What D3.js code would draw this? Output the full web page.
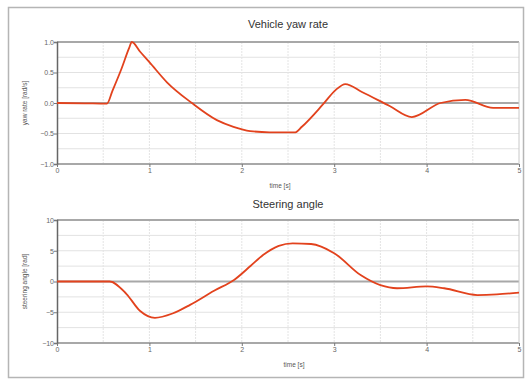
<!DOCTYPE html>
<html>
<head>
<meta charset="utf-8">
<script src="https://cdn.jsdelivr.net/npm/d3@7"></script>
<style>
  body { margin: 0; background: #fff; }
  text { font-family: "Liberation Sans", Arial, sans-serif; }
</style>
</head>
<body>
<script>
// data
var yawTime  = [0, 0.3, 0.54, 0.6, 0.7, 0.78, 0.81, 0.9, 1.0, 1.19, 1.46, 1.73, 1.91, 2.09, 2.3, 2.58, 2.65, 2.88, 3.02, 3.12, 3.3, 3.6, 3.84, 4.15, 4.42, 4.72, 5.0];
var yawRate  = [0, -0.005, -0.01, 0.2, 0.57, 0.9, 1.0, 0.84, 0.67, 0.34, 0.0, -0.28, -0.39, -0.46, -0.48, -0.48, -0.39, -0.02, 0.22, 0.31, 0.18, -0.05, -0.23, 0.0, 0.05, -0.08, -0.08];
var steerTime  = [0, 0.57, 0.75, 0.9, 1.06, 1.25, 1.44, 1.7, 1.92, 2.1, 2.23, 2.4, 2.55, 2.75, 3.0, 3.29, 3.5, 3.68, 4.0, 4.19, 4.55, 4.76, 5.0];
var steerAngle = [0, 0, -2.0, -4.8, -5.9, -5.2, -3.8, -1.5, 0.3, 2.6, 4.3, 5.8, 6.2, 6.1, 4.6, 1.0, -0.6, -1.1, -0.8, -1.1, -2.2, -2.1, -1.8];
var xTicks = [0, 1, 2, 3, 4, 5];
var yawTicks = [-1, -0.5, 0, 0.5, 1];
var steerTicks = [-10, -5, 0, 5, 10];

var W = 528, H = 381;
var svg = d3.select("body").append("svg").attr("width", W).attr("height", H);

// outer frame
svg.append("rect").attr("x", 8.5).attr("y", 7.5).attr("width", 515).attr("height", 370)
   .attr("fill", "none").attr("stroke", "#b5b5b5").attr("stroke-width", 1.5);

function panel(cfg) {
  var x = d3.scaleLinear().domain([0, 5]).range([57, 519]);
  var y = d3.scaleLinear().domain(cfg.domain).range([cfg.bottom, cfg.top]);
  var g = svg.append("g");

  // horizontal grid
  g.selectAll(".hg").data(d3.range(cfg.domain[0], cfg.domain[1] + 1e-9, cfg.minor)).enter()
   .append("line")
   .attr("x1", x(0)).attr("x2", x(5))
   .attr("y1", function(d) { return y(d); }).attr("y2", function(d) { return y(d); })
   .attr("stroke", "#e2e2e2").attr("stroke-width", 1);

  // vertical grid
  g.selectAll(".vg").data(d3.range(0.5, 5, 0.5)).enter()
   .append("line")
   .attr("x1", function(d) { return x(d); }).attr("x2", function(d) { return x(d); })
   .attr("y1", cfg.top).attr("y2", cfg.bottom)
   .attr("stroke", "#e4e4e4").attr("stroke-width", 1).attr("stroke-dasharray", "2,1");

  // top/bottom borders and zero line
  [cfg.domain[0], cfg.domain[1], 0].forEach(function(v) {
    g.append("line").attr("x1", x(0)).attr("x2", x(5)).attr("y1", y(v)).attr("y2", y(v))
     .attr("stroke", "#a8a8a8").attr("stroke-width", 2);
  });
  g.append("line").attr("x1", x(5)).attr("x2", x(5)).attr("y1", cfg.top).attr("y2", cfg.bottom)
   .attr("stroke", "#c8c8c8").attr("stroke-width", 1);

  // y axis
  var ya = d3.axisLeft(y).tickValues(cfg.ticks).tickSize(3).tickFormat(cfg.fmt);
  var yg = g.append("g").attr("transform", "translate(" + x(0) + ",0)").call(ya);
  yg.select(".domain").attr("stroke", "#666").attr("stroke-width", 1.5);
  yg.selectAll(".tick line").attr("stroke", "#777");
  yg.selectAll("text").attr("font-size", 7).attr("fill", "#666").attr("x", -3);

  // x axis
  var xa = d3.axisBottom(x).tickValues(xTicks).tickSize(3).tickFormat(d3.format("d"));
  var xg = g.append("g").attr("transform", "translate(0," + cfg.bottom + ")").call(xa);
  xg.select(".domain").remove();
  xg.selectAll(".tick line").attr("stroke", "#777");
  xg.selectAll("text").attr("font-size", 7).attr("fill", "#666").attr("y", 4);

  // line
  var pts = cfg.t.map(function(t, i) { return [t, cfg.v[i]]; });
  var line = d3.line().x(function(d) { return x(d[0]); }).y(function(d) { return y(d[1]); })
               .curve(d3.curveMonotoneX);
  g.append("path").datum(pts).attr("d", line).attr("fill", "none")
   .attr("stroke", "#e2421d").attr("stroke-width", 1.8);

  // texts
  svg.append("text").attr("x", 288).attr("y", cfg.titleY).attr("text-anchor", "middle")
     .attr("font-size", 11).attr("fill", "#333").text(cfg.title);
  svg.append("text").attr("x", cfg.xlabX).attr("y", cfg.xlabY).attr("text-anchor", "middle")
     .attr("font-size", 6.5).attr("fill", "#555").text("time [s]");
  svg.append("text").attr("transform", "translate(27," + ((cfg.top + cfg.bottom) / 2) + ") rotate(-90)")
     .attr("text-anchor", "middle").attr("font-size", 6.5).attr("fill", "#555").text(cfg.ylab);
}

panel({ domain: [-1, 1], top: 42, bottom: 164, minor: 0.25, ticks: yawTicks, fmt: d3.format(".1f"),
        t: yawTime, v: yawRate,
        title: "Vehicle yaw rate", titleY: 28, xlabX: 280, xlabY: 188, ylab: "yaw rate [rad/s]" });
panel({ domain: [-10, 10], top: 220, bottom: 343, minor: 2.5, ticks: steerTicks, fmt: d3.format("d"),
        t: steerTime, v: steerAngle,
        title: "Steering angle", titleY: 208, xlabX: 294, xlabY: 367, ylab: "steering angle [rad]" });
</script>
</body>
</html>
